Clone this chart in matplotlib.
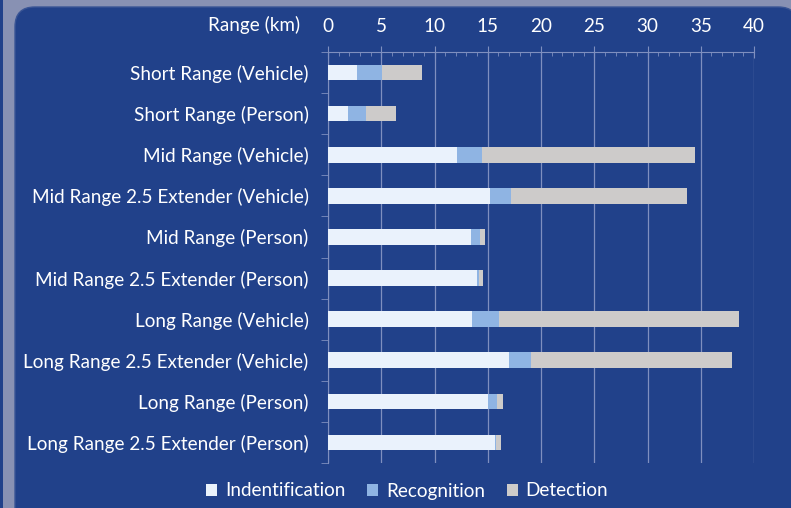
import numpy as np
import matplotlib
matplotlib.use('Agg')
import matplotlib.pyplot as plt
from matplotlib.patches import FancyBboxPatch, Rectangle

# categories (top to bottom)
categories = [
    'Short Range (Vehicle)',
    'Short Range (Person)',
    'Mid Range (Vehicle)',
    'Mid Range 2.5 Extender (Vehicle)',
    'Mid Range (Person)',
    'Mid Range 2.5 Extender (Person)',
    'Long Range (Vehicle)',
    'Long Range 2.5 Extender (Vehicle)',
    'Long Range (Person)',
    'Long Range 2.5 Extender (Person)',
]
# segment lengths in km
identification = [2.7, 1.9, 12.1, 15.2, 13.4, 14.0, 13.5, 17.0, 15.0, 15.7]
recognition = [2.4, 1.7, 2.4, 2.0, 0.9, 0.2, 2.6, 2.1, 0.9, 0.1]
detection = [3.7, 2.8, 20.0, 16.5, 0.4, 0.35, 22.5, 18.8, 0.5, 0.4]

series_names = ['Indentification', 'Recognition', 'Detection']
colors = ['#eaf2fc', '#8fb4e3', '#cdcbca']
x_ticks = [0, 5, 10, 15, 20, 25, 30, 35, 40]

BG = '#21418a'
FRAME = '#8891b3'
GRID = '#7f8fbf'
FS = 13.6

plt.rcParams['font.family'] = ['Lato', 'DejaVu Sans']

fig = plt.figure(figsize=(7.91, 5.08), dpi=100)
fig.patch.set_facecolor(FRAME)

# dark strip at the far left and the rounded panel (behind the axes)
fig.patches.append(Rectangle((0, 0), 3 / 791, 1, transform=fig.transFigure,
                             facecolor=BG, edgecolor='none', zorder=-2))
fig.patches.append(FancyBboxPatch((15 / 791, -0.05), 0.99, 1 - 7 / 508 + 0.05,
                                  boxstyle='round,pad=0,rounding_size=0.025',
                                  transform=fig.transFigure, facecolor=BG,
                                  edgecolor='#3a5595', lw=1, zorder=-2,
                                  mutation_aspect=791 / 508))

ax = fig.add_axes([328 / 791, 1 - 463 / 508, 426 / 791, 411 / 508])
ax.set_facecolor('none')
ax.set_zorder(1)

y = np.arange(len(categories))
left = np.zeros(len(categories))
for name, vals, c in zip(series_names, [identification, recognition, detection], colors):
    ax.barh(y, vals, left=left, height=0.38, color=c, label=name, zorder=3)
    left += np.array(vals)

ax.set_ylim(len(categories) - 0.5, -0.5)
ax.set_xlim(0, 40)
ax.xaxis.tick_top()
ax.set_xticks(x_ticks)
ax.set_xticks(np.arange(0, 41, 1), minor=True)
ax.set_yticks(y)
ax.set_yticklabels(categories)
ax.set_yticks(np.arange(-0.5, len(categories), 1), minor=True)

ax.tick_params(axis='x', which='major', colors=GRID, labelcolor='white',
               labelsize=FS, direction='inout', length=8, pad=8)
ax.tick_params(axis='x', which='minor', colors=GRID, direction='in', length=3)
ax.tick_params(axis='y', which='major', length=0, labelcolor='white',
               labelsize=FS, pad=14)
ax.tick_params(axis='y', which='minor', colors=GRID, direction='out', length=5)

ax.grid(axis='x', which='major', color=GRID, lw=0.9, zorder=0)
for s in ['right', 'bottom']:
    ax.spines[s].set_visible(False)
ax.spines['top'].set_color(GRID)
ax.spines['left'].set_color(GRID)

fig.text(300 / 791, 1 - 25 / 508, 'Range (km)', color='white', fontsize=FS,
         ha='right', va='center')

leg = fig.legend(loc='center', bbox_to_anchor=(407 / 791, 1 - 491 / 508), ncol=3,
                 frameon=False, fontsize=FS, handlelength=0.6, handleheight=0.6,
                 handletextpad=0.4, columnspacing=1.15, labelcolor='white')

fig.savefig('out.png', dpi=100, facecolor=fig.get_facecolor())
